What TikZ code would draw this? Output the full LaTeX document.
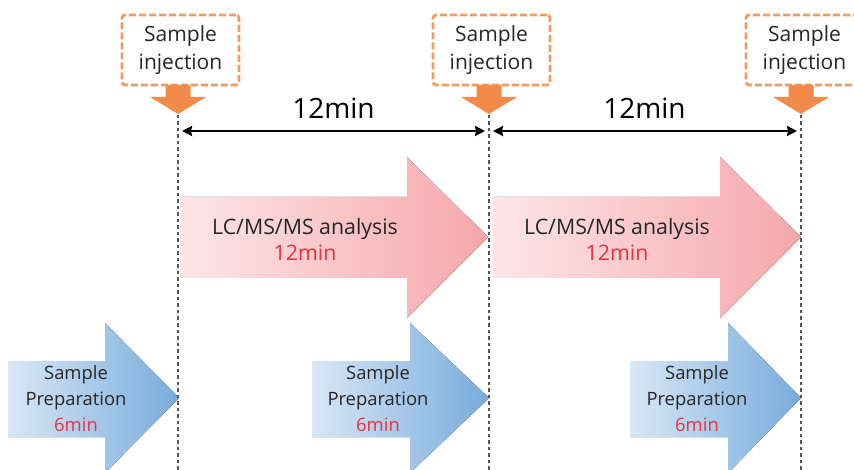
\documentclass[tikz,border=0pt]{standalone}
\usepackage{fontspec}
\setmainfont{Open Sans}
\usetikzlibrary{arrows.meta}
\definecolor{injor}{HTML}{F39A60}
\definecolor{injarrow}{HTML}{F28B4A}
\definecolor{redtxt}{HTML}{E8323C}
\definecolor{pinkL}{HTML}{FDE6E8}
\definecolor{pinkR}{HTML}{F5A7AB}
\definecolor{blueL}{HTML}{D8E7F6}
\definecolor{blueR}{HTML}{78ABDC}
\definecolor{txt}{HTML}{262626}
\definecolor{vline}{HTML}{555555}
\begin{document}
\begin{tikzpicture}[x=1pt,y=-1pt,
  injbox/.style={draw=injor, line width=2.8pt, dash pattern=on 7pt off 3pt, rounded corners=3pt, fill=white, minimum width=117pt, minimum height=70pt, inner sep=0pt, align=center, font=\fontsize{21}{28}\selectfont, text=txt},
  vdash/.style={draw=vline, line width=1.1pt, dash pattern=on 3.5pt off 3pt},
  spanarrow/.style={line width=2.5pt, shorten <=4pt, shorten >=4pt, {Stealth[length=10pt,width=10pt,inset=1pt]}-{Stealth[length=10pt,width=10pt,inset=1pt]}},
  spanlabel/.style={font=\fontsize{28}{30}\selectfont, text=black},
  pinklbl/.style={align=center, font=\fontsize{21.3}{26}\selectfont, text=txt},
  bluelbl/.style={align=center, font=\fontsize{18.4}{26}\selectfont, text=txt},
  pinkfill/.style={left color=pinkL, right color=pinkR},
  bluefill/.style={left color=blueL, right color=blueR},
]
\useasboundingbox (0,0) rectangle (854,470);
\begin{scope}
\clip (0,0) rectangle (854,470);
% time marks
\coordinate (t1) at (178,115);
\coordinate (t2) at (489,115);
\coordinate (t3) at (801,115);
\coordinate (b1) at (178,470);
\coordinate (b2) at (489,470);
\coordinate (b3) at (801,470);

% pink analysis arrows
\fill[pinkfill] (180,197) -- (407,197) -- (407,157) -- (488,237) -- (407,318) -- (407,278) -- (180,278) -- cycle;
\fill[pinkfill] (492,197) -- (720,197) -- (720,157) -- (801,237) -- (720,318) -- (720,278) -- (492,278) -- cycle;

% blue preparation arrows
\fill[bluefill] (8,361) -- (105,361) -- (105,323) -- (179,398) -- (105,473) -- (105,437) -- (8,437) -- cycle;
\fill[bluefill] (312,361) -- (410,361) -- (410,323) -- (489,398) -- (410,473) -- (410,437) -- (312,437) -- cycle;
\fill[bluefill] (630,361) -- (728,361) -- (728,323) -- (801,398) -- (728,473) -- (728,437) -- (630,437) -- cycle;

% dashed time lines
\draw[vdash] (t1) -- (b1);
\draw[vdash] (t2) -- (b2);
\draw[vdash] (t3) -- (b3);

% injection boxes
\node[injbox] (inj1) at (180.5,50) {Sample\\injection};
\node[injbox] (inj2) at (491.5,50) {Sample\\injection};
\node[injbox] (inj3) at (804.5,50) {Sample\\injection};

% orange down arrows
\foreach \c in {178,489,801}{
  \fill[injarrow] (\c-12.5,85) -- (\c+12.5,85) -- (\c+12.5,97) -- (\c+28,97) -- (\c,114) -- (\c-28,97) -- (\c-12.5,97) -- cycle;
}

% span arrows
\coordinate (s1) at (178,131);
\coordinate (s2) at (489,131);
\coordinate (s3) at (801,131);
\draw[spanarrow] (s1) -- (s2);
\draw[spanarrow] (s2) -- (s3);
\node[spanlabel] (span1) at (333.5,108) {12min};
\node[spanlabel] (span2) at (644.5,108) {12min};

% labels
\node[pinklbl] (lc1) at (305,239) {LC/MS/MS analysis\\\textcolor{redtxt}{12min}};
\node[pinklbl] (lc2) at (617,239) {LC/MS/MS analysis\\\textcolor{redtxt}{12min}};
\node[bluelbl] (sp1) at (76,399) {Sample\\Preparation\\\textcolor{redtxt}{6min}};
\node[bluelbl] (sp2) at (378,399) {Sample\\Preparation\\\textcolor{redtxt}{6min}};
\node[bluelbl] (sp3) at (697,399) {Sample\\Preparation\\\textcolor{redtxt}{6min}};
\end{scope}
\end{tikzpicture}
\end{document}
